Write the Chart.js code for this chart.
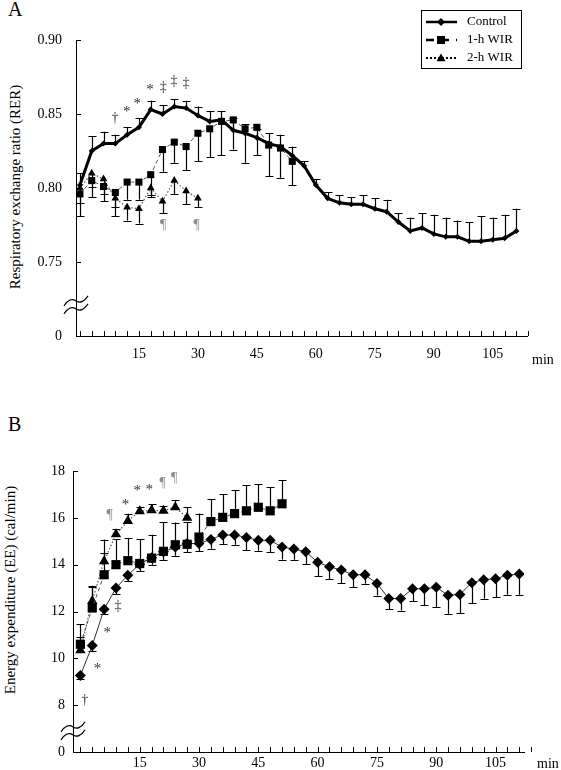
<!DOCTYPE html>
<html>
<head>
<meta charset="utf-8">
<script src="https://cdn.jsdelivr.net/npm/chart.js@4.4.1/dist/chart.umd.min.js"></script>
<style>
body { margin: 0; background: #fff; }
#wrap { position: relative; width: 561px; height: 770px; font-family: 'Liberation Serif', 'Times New Roman', serif; color: #000; }
#wrap canvas { position: absolute; left: 0; }
.lbl { position: absolute; line-height: 1; white-space: nowrap; }
.ytitle { position: absolute; font-size: 15px; line-height: 1; white-space: nowrap; transform: translate(-50%, -50%) rotate(-90deg); }
</style>
</head>
<body>
<div id="wrap">
  <div class="lbl" style="left:8px;top:-1px;font-size:20px">A</div>
  <div class="ytitle" style="left:15px;top:187px">Respiratory exchange ratio (RER)</div>
  <canvas id="rerChart" width="561" height="372" style="top:0"></canvas>
  <div class="lbl" style="left:532px;top:353px;font-size:14px">min</div>

  <div class="lbl" style="left:8px;top:414px;font-size:20px">B</div>
  <div class="ytitle" style="left:10px;top:590px">Energy expenditure (EE) (cal/min)</div>
  <canvas id="eeChart" width="561" height="385" style="top:385px"></canvas>
  <div class="lbl" style="left:537px;top:757px;font-size:14px">min</div>
</div>
<script>
// sampling times (min)
const minutes = [0, 3, 6, 9, 12, 15, 18, 21, 24, 27, 30, 33, 36, 39, 42, 45, 48, 51, 54, 57,
    60, 63, 66, 69, 72, 75, 78, 81, 84, 87, 90, 93, 96, 99, 102, 105, 108, 111];
const minuteTicks = minutes.concat([114]);
const minuteLabels = [15, 30, 45, 60, 75, 90, 105];

// A: respiratory exchange ratio
const rerTicks = [0.70, 0.75, 0.80, 0.85, 0.90];
const rerTickLabels = ['0', '0.75', '0.80', '0.85', '0.90'];
const rerControl = [0.802, 0.825, 0.830, 0.830, 0.836, 0.841, 0.853, 0.850, 0.855, 0.854,
    0.849, 0.845, 0.846, 0.839, 0.837, 0.834, 0.830, 0.828, 0.822, 0.815,
    0.802, 0.793, 0.790, 0.789, 0.789, 0.786, 0.784, 0.777, 0.771, 0.773,
    0.769, 0.767, 0.767, 0.764, 0.764, 0.765, 0.766, 0.771];
const rerControlSE = [0.008, 0.010, 0.008, 0.006, 0.005, 0.006, 0.006, 0.006, 0.005, 0.005,
    0.006, 0.007, 0.006, 0.008, 0.006, 0.006, 0.007, 0.008, 0.006, 0.003,
    0.004, 0.004, 0.005, 0.005, 0.006, 0.007, 0.008, 0.006, 0.009, 0.010,
    0.013, 0.013, 0.011, 0.013, 0.017, 0.015, 0.016, 0.015];
const rer1h = [0.796, 0.805, 0.801, 0.797, 0.804, 0.804, 0.809, 0.826, 0.831, 0.828,
    0.837, 0.840, 0.845, 0.846, 0.840, 0.841, 0.829, 0.827, 0.818];
const rer1hSE = [0.015, 0.011, 0.010, 0.010, 0.012, 0.012, 0.014, 0.015, 0.014, 0.016,
    0.019, 0.019, 0.023, 0.020, 0.023, 0.019, 0.021, 0.020, 0.016];
const rer2h = [0.800, 0.810, 0.806, 0.793, 0.787, 0.786, 0.800, 0.791, 0.805, 0.798, 0.793];
const rer2hSE = [0.010, 0.009, 0.010, 0.012, 0.009, 0.010, 0.006, 0.008, 0.009, 0.009, 0.006];
const rerNotes = [
    ['\u2020', 8.9, 0.847], ['*', 11.9, 0.853], ['*', 14.6, 0.859], ['*', 17.8, 0.868],
    ['\u2021', 21.2, 0.868], ['\u2021', 23.9, 0.872], ['\u2021', 27, 0.871],
    ['\u00b6', 21.2, 0.775], ['\u00b6', 29.7, 0.775]
];

// B: energy expenditure
const eeTicks = [6, 8, 10, 12, 14, 16, 18];
const eeTickLabels = ['0', '8', '10', '12', '14', '16', '18'];
const eeControl = [9.27, 10.55, 12.1, 13.0, 13.55, 14.02, 14.3, 14.55, 14.75, 14.9,
    14.9, 15.08, 15.27, 15.27, 15.16, 15.04, 15.04, 14.75, 14.67, 14.55,
    14.1, 13.91, 13.77, 13.57, 13.57, 13.2, 12.55, 12.55, 12.97, 12.97,
    13.04, 12.69, 12.73, 13.23, 13.36, 13.4, 13.55, 13.6];
const eeControlSE = [0.17, 0.25, 0.2, 0.25, 0.25, 0.3, 0.3, 0.35, 0.37, 0.38,
    0.33, 0.4, 0.39, 0.42, 0.54, 0.45, 0.5, 0.53, 0.46, 0.52,
    0.6, 0.52, 0.57, 0.53, 0.39, 0.52, 0.44, 0.51, 0.54, 0.71,
    0.86, 0.79, 0.8, 0.88, 0.82, 0.79, 0.83, 0.88];
const ee1h = [10.6, 12.15, 13.57, 14.0, 14.17, 14.05, 14.28, 14.57, 14.85, 14.87,
    15.18, 15.84, 16.02, 16.18, 16.3, 16.45, 16.3, 16.6];
const ee1hSE = [0.85, 0.95, 1.5, 1.1, 0.95, 1.05, 1.0, 1.25, 0.95, 0.95,
    1.0, 0.95, 1.0, 1.0, 1.1, 1.0, 1.0, 1.0];
const ee2h = [10.35, 12.45, 14.15, 15.3, 15.87, 16.28, 16.32, 16.3, 16.45, 16.0];
const ee2hSE = [0.55, 0.6, 0.35, 0.22, 0.3, 0.2, 0.25, 0.2, 0.3, 0.45];
const eeNotes = [
    ['\u00b6', 7.4, 16.12], ['*', 11.4, 16.69], ['*', 14.4, 17.26], ['*', 17.4, 17.3],
    ['\u00b6', 20.8, 17.47], ['\u00b6', 23.7, 17.69],
    ['\u2021', 9.5, 12.23], ['*', 6.8, 11.2], ['*', 4.3, 9.67], ['\u2020', 1.1, 8.21]
];

Chart.defaults.font.family = "'Liberation Serif', 'Times New Roman', serif";
Chart.defaults.color = '#000';

function points(values) {
    return values.map((v, i) => ({x: minutes[i], y: v}));
}

// inward tick marks + axis break squiggle
const axisMarks = {
    id: 'axisMarks',
    afterDraw(chart, args, opts) {
        const {ctx, chartArea} = chart;
        const x = chart.scales.x, y = chart.scales.y;
        ctx.save();
        ctx.strokeStyle = '#000';
        ctx.lineWidth = 1;
        ctx.beginPath();
        x.ticks.forEach(t => {
            const px = Math.round(x.getPixelForValue(t.value)) + 0.5;
            ctx.moveTo(px, chartArea.bottom);
            ctx.lineTo(px, chartArea.bottom - 5);
        });
        y.ticks.forEach(t => {
            const py = Math.round(y.getPixelForValue(t.value)) + 0.5;
            ctx.moveTo(chartArea.left, py);
            ctx.lineTo(chartArea.left + 5, py);
        });
        ctx.stroke();
        const bx = chartArea.left, by = y.getPixelForValue(opts.breakAt);
        ctx.lineWidth = 1.2;
        [-4, 4].forEach(s => {
            ctx.beginPath();
            ctx.moveTo(bx - 12, by + 5 + s);
            ctx.quadraticCurveTo(bx - 6, by - 4 + s, bx, by + s);
            ctx.quadraticCurveTo(bx + 6, by + 4 + s, bx + 12, by - 5 + s);
            ctx.stroke();
        });
        ctx.restore();
    }
};

const errorBars = {
    id: 'errorBars',
    beforeDatasetsDraw(chart, args, opts) {
        const {ctx} = chart;
        const y = chart.scales.y;
        ctx.save();
        ctx.strokeStyle = '#000';
        ctx.lineWidth = opts.width || 1.2;
        chart.data.datasets.forEach((ds, i) => {
            const meta = chart.getDatasetMeta(i);
            meta.data.forEach((pt, j) => {
                const v = ds.data[j].y;
                const end = y.getPixelForValue(v + ds.errorDir * ds.errors[j]);
                const px = Math.round(pt.x) + 0.5;
                ctx.beginPath();
                ctx.moveTo(px, pt.y);
                ctx.lineTo(px, end);
                ctx.moveTo(px - opts.cap, Math.round(end) + 0.5);
                ctx.lineTo(px + opts.cap, Math.round(end) + 0.5);
                ctx.stroke();
            });
        });
        ctx.restore();
    }
};

const notes = {
    id: 'notes',
    afterDatasetsDraw(chart, args, opts) {
        const {ctx} = chart;
        const x = chart.scales.x, y = chart.scales.y;
        ctx.save();
        ctx.textAlign = 'center';
        ctx.textBaseline = 'middle';
        opts.items.forEach(([s, t, v]) => {
            ctx.fillStyle = s === '\u00b6' ? '#8a8a8a' : '#333';
            ctx.font = (s === '*' ? 15 : 14) + "px 'Liberation Serif', serif";
            ctx.fillText(s, x.getPixelForValue(t), y.getPixelForValue(v) + (s === '*' ? 3 : 0));
        });
        ctx.restore();
    }
};

function marker(ctx, style, cx, cy, r) {
    ctx.beginPath();
    if (style === 'rectRot') {
        ctx.moveTo(cx, cy - r); ctx.lineTo(cx + r, cy); ctx.lineTo(cx, cy + r); ctx.lineTo(cx - r, cy);
    } else if (style === 'rect') {
        ctx.rect(cx - r, cy - r, 2 * r, 2 * r);
    } else {
        ctx.moveTo(cx, cy - r); ctx.lineTo(cx + r, cy + r * 0.7); ctx.lineTo(cx - r, cy + r * 0.7);
    }
    ctx.closePath();
    ctx.fill();
}

// boxed legend, top right of panel A
const legendBox = {
    id: 'legendBox',
    afterDraw(chart, args, opts) {
        if (!opts.show) return;
        const {ctx} = chart;
        ctx.save();
        ctx.strokeStyle = '#000';
        ctx.lineWidth = 1;
        ctx.strokeRect(421.5, 10.5, 100, 58);
        ctx.font = "13px 'Liberation Serif', serif";
        ctx.textBaseline = 'middle';
        ctx.fillStyle = '#000';
        const rows = [22, 40, 58];
        const sizes = [4, 4, 4.5];
        chart.data.datasets.forEach((ds, i) => {
            const ly = rows[i];
            ctx.beginPath();
            ctx.lineWidth = i === 2 ? 2 : 2.5;
            ctx.setLineDash(i === 0 ? [] : (i === 1 ? [8, 7] : [2, 2]));
            ctx.moveTo(426, ly);
            ctx.lineTo(457, ly);
            ctx.stroke();
            ctx.setLineDash([]);
            marker(ctx, ds.pointStyle, 441, ly, sizes[i]);
            ctx.fillText(ds.label, 467, ly);
        });
        ctx.restore();
    }
};

function makeChart(id, cfg) {
    return new Chart(document.getElementById(id), {
        type: 'line',
        data: {datasets: cfg.datasets},
        plugins: [errorBars, axisMarks, notes, legendBox],
        options: {
            responsive: false,
            animation: false,
            events: [],
            devicePixelRatio: 1,
            layout: {padding: {top: cfg.top, right: cfg.right, left: 0, bottom: 0}},
            plugins: {
                legend: {display: false},
                tooltip: {enabled: false},
                axisMarks: {breakAt: cfg.breakAt},
                errorBars: {cap: 4, width: 1.2},
                notes: {items: cfg.notes},
                legendBox: {show: cfg.legend}
            },
            scales: {
                x: {
                    type: 'linear',
                    min: cfg.xMin,
                    max: cfg.xMax,
                    afterBuildTicks: s => { s.ticks = minuteTicks.map(v => ({value: v})); },
                    afterFit: s => { s.height = cfg.xHeight; },
                    grid: {display: false, drawTicks: false},
                    border: {display: true, color: '#000', width: 1},
                    ticks: {
                        autoSkip: false,
                        maxRotation: 0,
                        padding: cfg.xPad,
                        font: {size: 14},
                        callback: v => minuteLabels.includes(v) ? String(v) : ''
                    }
                },
                y: {
                    min: cfg.yTicks[0],
                    max: cfg.yTicks[cfg.yTicks.length - 1],
                    afterBuildTicks: s => { s.ticks = cfg.yTicks.map(v => ({value: v})); },
                    afterFit: s => { s.width = cfg.yWidth; },
                    grid: {display: false, drawTicks: false},
                    border: {display: true, color: '#000', width: 1},
                    ticks: {
                        padding: cfg.yPad,
                        font: {size: 14},
                        callback: (v, i) => cfg.yLabels[i]
                    }
                }
            }
        }
    });
}

makeChart('rerChart', {
    top: 40, right: 34, xHeight: 36, yWidth: 76, xPad: 10, yPad: 14,
    xMin: -1, xMax: 113.7, breakAt: 0.721,
    yTicks: rerTicks, yLabels: rerTickLabels, notes: rerNotes, legend: true,
    datasets: [{
        label: 'Control',
        data: points(rerControl), errors: rerControlSE, errorDir: 1,
        borderColor: '#000', borderWidth: 3,
        pointStyle: 'rectRot', pointRadius: 3, pointBackgroundColor: '#000', pointBorderWidth: 0
    }, {
        label: '1-h WIR',
        data: points(rer1h), errors: rer1hSE, errorDir: -1,
        borderColor: '#555', borderWidth: 1, borderDash: [4, 3],
        pointStyle: 'rect', pointRadius: 5, pointBackgroundColor: '#000', pointBorderWidth: 0
    }, {
        label: '2-h WIR',
        data: points(rer2h), errors: rer2hSE, errorDir: -1,
        borderColor: '#555', borderWidth: 1.2, borderDash: [1.5, 2],
        pointStyle: 'triangle', pointRadius: 4.5, pointBackgroundColor: '#000', pointBorderWidth: 0
    }]
});

makeChart('eeChart', {
    top: 86, right: 37, xHeight: 18, yWidth: 73, xPad: 3, yPad: 8,
    xMin: -1.87, xMax: 112.2, breakAt: 6.9,
    yTicks: eeTicks, yLabels: eeTickLabels, notes: eeNotes, legend: false,
    datasets: [{
        label: 'Control',
        data: points(eeControl), errors: eeControlSE, errorDir: -1,
        borderColor: '#333', borderWidth: 1,
        pointStyle: 'rectRot', pointRadius: 5.5, pointBackgroundColor: '#000', pointBorderWidth: 0
    }, {
        label: '1-h WIR',
        data: points(ee1h), errors: ee1hSE, errorDir: 1,
        borderColor: '#555', borderWidth: 1, borderDash: [4, 3],
        pointStyle: 'rect', pointRadius: 6.5, pointBackgroundColor: '#000', pointBorderWidth: 0
    }, {
        label: '2-h WIR',
        data: points(ee2h), errors: ee2hSE, errorDir: 1,
        borderColor: '#555', borderWidth: 1.2, borderDash: [1.5, 2],
        pointStyle: 'triangle', pointRadius: 6, pointBackgroundColor: '#000', pointBorderWidth: 0
    }]
});
</script>
</body>
</html>
